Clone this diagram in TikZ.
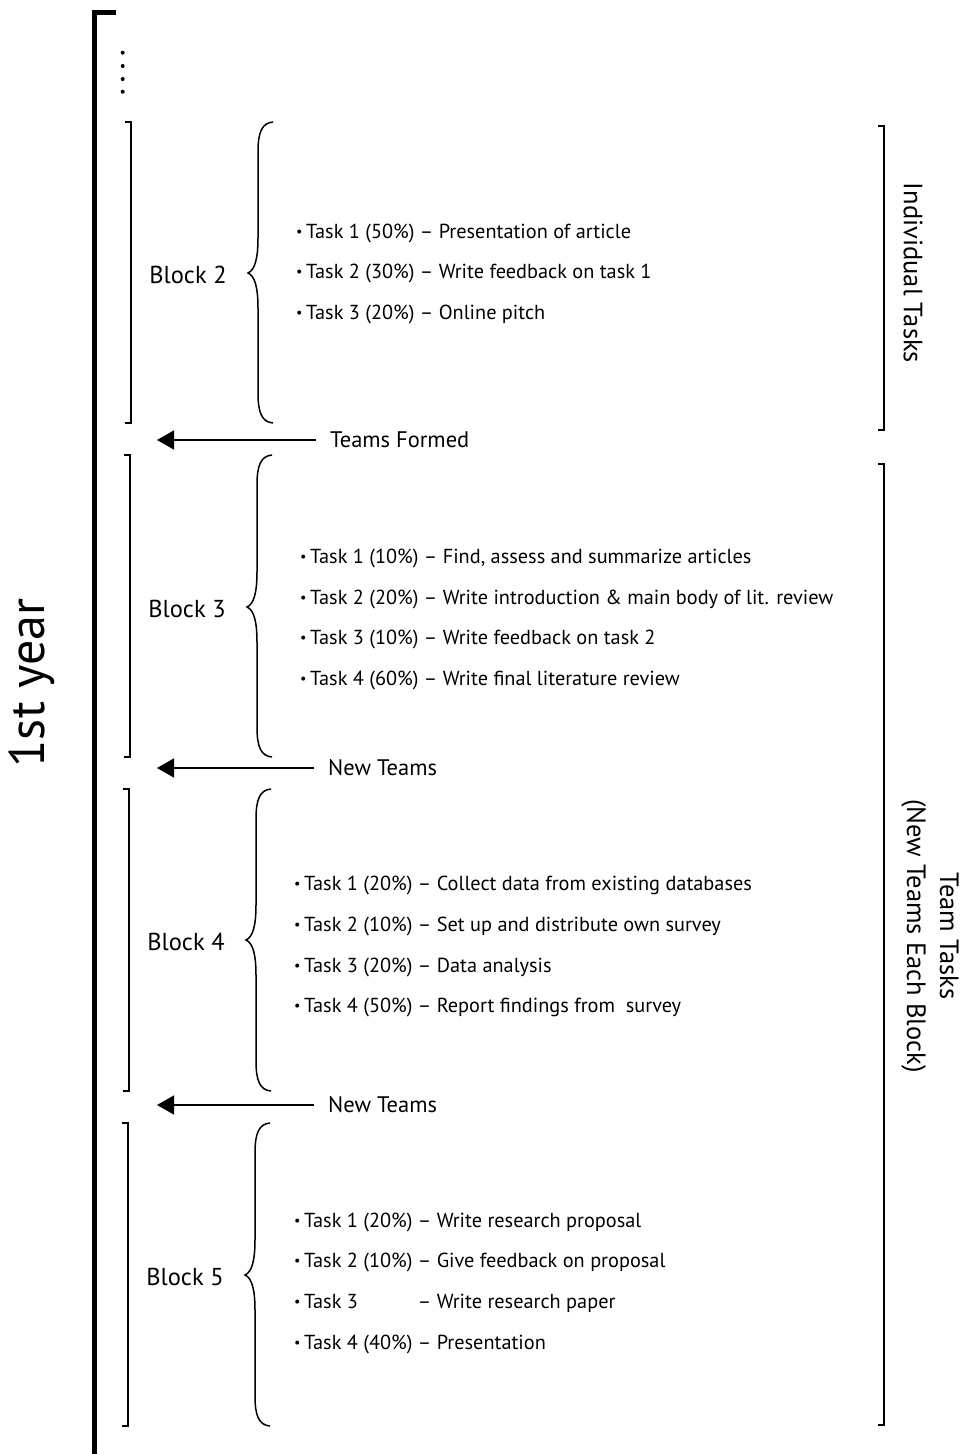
\documentclass[tikz,border=0pt]{standalone}
\usepackage{fontspec}
\setmainfont{PT Sans}
\usetikzlibrary{arrows.meta}
\begin{document}
\begin{tikzpicture}[x=1pt,y=-1pt,
  thin line/.style={line width=1.5pt},
  taskstyle/.style={anchor=base west,inner sep=0pt,font=\fontsize{20.3}{24}\selectfont},
  blockstyle/.style={anchor=base,inner sep=0pt,font=\fontsize{24.5}{28}\selectfont},
  teamstyle/.style={anchor=base west,inner sep=0pt,font=\fontsize{22.5}{26}\selectfont},
  sidestyle/.style={inner sep=0pt,font=\fontsize{26.5}{33}\selectfont},
  arrowstyle/.style={thin line,-{Triangle[length=17pt,width=19pt]}}
]
\useasboundingbox (0,0) rectangle (966,1454);
\newcommand\bul{{\raisebox{0.15ex}{\scalebox{0.7}{\textbullet}}}\,}
% big year bracket
\draw[line width=5pt] (116,12.3) -- (94,12.3) -- (94,1460);
\foreach \yy in {52.7,66,79,91.7} \fill (122.7,\yy) circle (2pt);
\node[sidestyle,font=\fontsize{50}{60}\selectfont,rotate=90] (year) at (32,683) {1st year};
% blocks: top, bottom, mid, dx, name
\foreach \t/\b/\m/\dx/\n in {122/423/273/0/2, 455/757/607/-1/3, 789/1091/940/-2/4, 1123/1426/1275/-3/5}{
  \draw[thin line] (125+\dx,\t) -- (131+\dx,\t) -- (131+\dx,\b) -- (125+\dx,\b);
  \pgfmathsetmacro\E{273+\dx}
  \draw[thin line] (\E,\t) .. controls (\E-11,\t+1) and (\E-15,\t+10) .. (\E-15,\t+30)
     -- (\E-15,\m-35) .. controls (\E-15,\m-15) and (\E-18,\m-3) .. (\E-25,\m)
     .. controls (\E-18,\m+3) and (\E-15,\m+15) .. (\E-15,\m+35)
     -- (\E-15,\b-30) .. controls (\E-15,\b-10) and (\E-11,\b-1) .. (\E,\b);
  \node[blockstyle] (block\n) at (188+\dx,\m+10) {Block \n};
}
% tasks block 2
\node[taskstyle] (b2t1) at (296,238) {\bul Task 1 (50\%) – Presentation of article};
\node[taskstyle] (b2t2) at (296,278.5) {\bul Task 2 (30\%) – Write feedback on task 1};
\node[taskstyle] (b2t3) at (296,319) {\bul Task 3 (20\%) – Online pitch};
% block 3
\node[taskstyle] (b3t1) at (300,563) {\bul Task 1 (10\%) – Find, assess and summarize articles};
\node[taskstyle] (b3t2) at (300,604) {\bul Task 2 (20\%) – Write introduction \& main body of lit. review};
\node[taskstyle] (b3t3) at (300,644.5) {\bul Task 3 (10\%) – Write feedback on task 2};
\node[taskstyle] (b3t4) at (300,685) {\bul Task 4 (60\%) – Write final literature review};
% block 4
\node[taskstyle] (b4t1) at (294,890) {\bul Task 1 (20\%) – Collect data from existing databases};
\node[taskstyle] (b4t2) at (294,931) {\bul Task 2 (10\%) – Set up and distribute own survey};
\node[taskstyle] (b4t3) at (294,972) {\bul Task 3 (20\%) – Data analysis};
\node[taskstyle] (b4t4) at (294,1012.5) {\bul Task 4 (50\%) – Report findings from\ \ survey};
% block 5
\node[taskstyle] (b5t1) at (294,1227) {\bul Task 1 (20\%) – Write research proposal};
\node[taskstyle] (b5t2) at (294,1267.5) {\bul Task 2 (10\%) – Give feedback on proposal};
\node[taskstyle] (b5t3) at (294,1308) {\bul Task 3\hphantom{ (20\%)}\ – Write research paper};
\node[taskstyle] (b5t4) at (294,1349) {\bul Task 4 (40\%) – Presentation};
% team arrows
\node[teamstyle] (tf) at (330,447.5) {Teams Formed};
\node[teamstyle] (nt1) at (328,775.5) {New Teams};
\node[teamstyle] (nt2) at (328,1112.5) {New Teams};
\coordinate (tfs) at (316,440); \coordinate (tfe) at (157,440);
\coordinate (nt1s) at (314,768); \coordinate (nt1e) at (157,768);
\coordinate (nt2s) at (314,1105); \coordinate (nt2e) at (157,1105);
\draw[arrowstyle] (tfs) -- (tfe);
\draw[arrowstyle] (nt1s) -- (nt1e);
\draw[arrowstyle] (nt2s) -- (nt2e);
% right brackets
\draw[thin line] (878,126) -- (884,126) -- (884,430) -- (878,430);
\draw[thin line] (878,464) -- (884,464) -- (884,1425) -- (878,1425);
\node[sidestyle,rotate=-90] (indiv) at (913,273) {Individual Tasks};
\node[sidestyle,rotate=-90,align=center] (team) at (930,936) {Team Tasks\\(New Teams Each Block)};
\end{tikzpicture}
\end{document}
